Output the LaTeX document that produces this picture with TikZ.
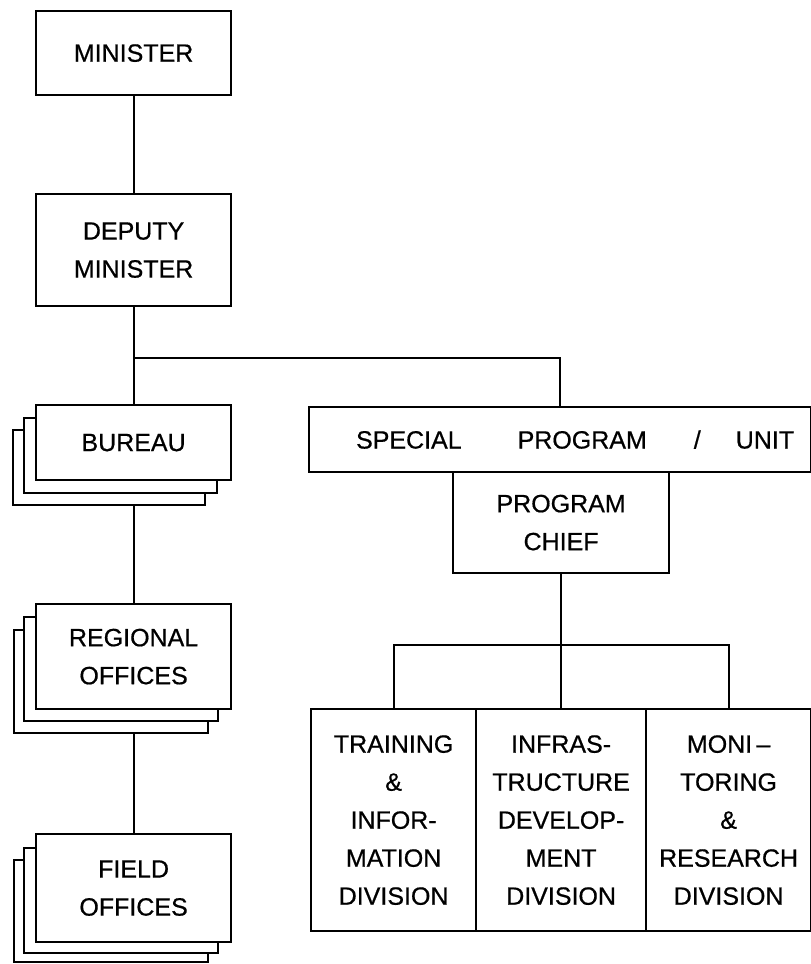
\documentclass[tikz,border=0pt]{standalone}
\usepackage{fontspec}
\setmainfont{Liberation Sans}[FakeBold=0.6]
\begin{document}
\begin{tikzpicture}[x=1pt,y=-1pt,
  line width=2.2pt,
  plainbox/.style={draw, fill=white, inner sep=0pt, anchor=north west,
    font=\fontsize{25}{38}\selectfont},
  box/.style={plainbox, align=center},
  link/.style={line width=2.2pt}]
\useasboundingbox (0,0) rectangle (811,964);

% ministry line
\node[box, minimum width=195pt, minimum height=84pt] (minister) at (35,10) {MINISTER};
\node[box, minimum width=195pt, minimum height=112pt] (deputy) at (35,193) {DEPUTY\\MINISTER};

% stacked bureau boxes
\node[box, minimum width=192pt, minimum height=75pt] (bureau3) at (12,429) {};
\node[box, minimum width=193pt, minimum height=75pt] (bureau2) at (23,417) {};
\node[box, minimum width=195pt, minimum height=75pt] (bureau) at (35,404) {BUREAU};

% stacked regional offices
\node[box, minimum width=194pt, minimum height=103pt] (regional3) at (13,629) {};
\node[box, minimum width=194pt, minimum height=104pt] (regional2) at (23,616) {};
\node[box, minimum width=195pt, minimum height=105pt] (regional) at (35,603) {REGIONAL\\OFFICES};

% stacked field offices
\node[box, minimum width=194pt, minimum height=102pt] (field3) at (13,859) {};
\node[box, minimum width=194pt, minimum height=105pt] (field2) at (23,847) {};
\node[box, minimum width=195pt, minimum height=108pt] (field) at (35,833) {FIELD\\OFFICES};

% special program
\node[plainbox, minimum width=502pt, minimum height=65pt] (spu) at (308,406)
  {\hspace*{30pt}SPECIAL\hspace{56pt}PROGRAM\hspace{47pt}/\hspace{35pt}UNIT};
\node[box, minimum width=216pt, minimum height=101pt] (chief) at (452,471) {PROGRAM\\CHIEF};

% divisions
\node[box, minimum width=165pt, minimum height=222pt] (train) at (310,708)
  {TRAINING\\\&\\INFOR-\\MATION\\DIVISION};
\node[box, minimum width=170pt, minimum height=222pt] (infra) at (475,708)
  {INFRAS-\\TRUCTURE\\DEVELOP-\\MENT\\DIVISION};
\node[box, minimum width=165pt, minimum height=222pt] (moni) at (645,708)
  {MONI\,--\\TORING\\\&\\RESEARCH\\DIVISION};

% connectors
\path (deputy.south) ++(0,51) coordinate (split1);
\path (chief.south) ++(0,71) coordinate (split2);
\draw[link] (minister) -- (deputy);
\draw[link] (deputy.south) -- (bureau.north);
\draw[link] (split1) -| (spu.north);
\draw[link] (bureau3.south -| bureau.north) -- (regional.north);
\draw[link] (regional3.south -| regional.north) -- (field.north);
\draw[link] (chief.south) -- (split2);
\draw[link] (split2) -- (split2 |- infra.north);
\draw[link] (train.north) |- (split2) -| (moni.north);
\end{tikzpicture}
\end{document}
